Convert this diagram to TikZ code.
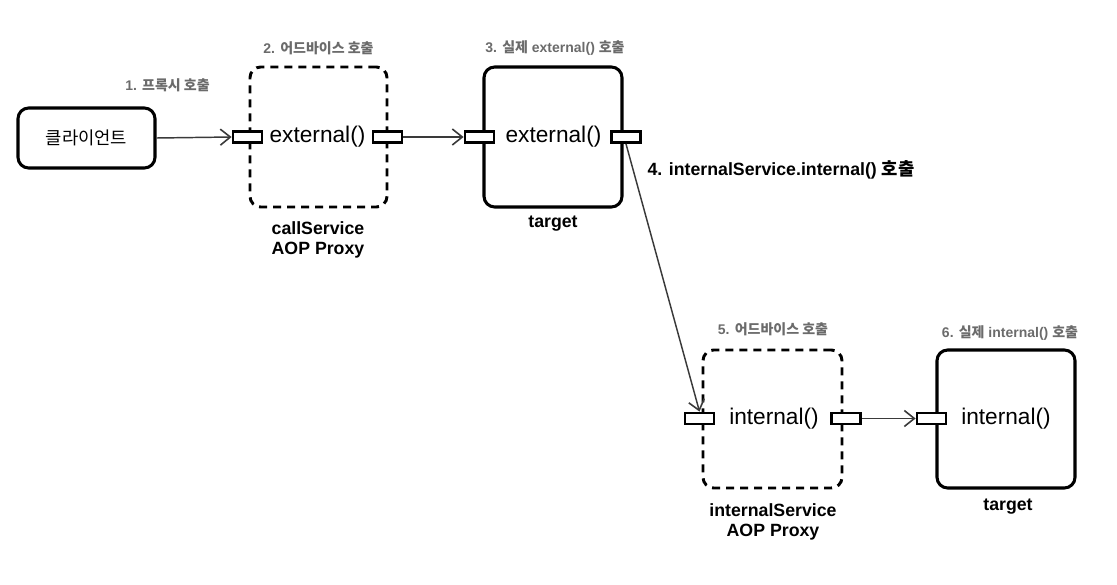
\documentclass[tikz,border=0pt]{standalone}
\usepackage{fontspec}
\setmainfont{Liberation Sans}
\newfontfamily\kr{Noto Sans CJK KR}
\usetikzlibrary{arrows.meta}
\definecolor{lblgray}{HTML}{6B6B6B}
\definecolor{arrgray}{HTML}{3A3A3A}
\tikzset{
  solidbox/.style={draw=black, line width=2.3pt, rounded corners=8pt, inner sep=0pt},
  dashbox/.style={draw=black, line width=2.2pt, rounded corners=8pt, inner sep=0pt, dash pattern=on 6pt off 4.5pt},
  port/.style={draw=black, fill=white, line width=2.1pt, minimum width=21.75pt, minimum height=8.25pt, inner sep=0pt},
  method/.style={font=\fontsize{17pt}{19pt}\selectfont, inner sep=0pt},
  graylbl/.style={text=lblgray, font=\bfseries\fontsize{10.5pt}{12pt}\selectfont, inner sep=0pt},
  blacklbl/.style={text=black, font=\bfseries\fontsize{13.3pt}{15.5pt}\selectfont, inner sep=0pt, align=center},
  flow/.style={draw=arrgray, line width=1.1pt, -{Straight Barb[length=7.5pt,width=12pt,line width=1.2pt]}},
}
\begin{document}
\begin{tikzpicture}[x=0.75pt,y=-0.75pt]
\useasboundingbox (0,0) rectangle (1117,585);
% boxes
\node[solidbox, minimum width=102.75pt, minimum height=45pt] (client) at (86.5,138) {\kr\fontsize{13.3pt}{15pt}\selectfont 클라이언트};
\node[dashbox, minimum width=102.75pt, minimum height=105pt] (proxy1) at (318.5,137) {};
\node[solidbox, minimum width=103.5pt, minimum height=105pt] (target1) at (553,137) {};
\node[dashbox, minimum width=104.25pt, minimum height=103.5pt] (proxy2) at (772.5,419) {};
\node[solidbox, minimum width=103.5pt, minimum height=103.5pt] (target2) at (1006,419) {};
% ports
\node[port] (p1l) at (247.5,137) {};
\node[port] (p1r) at (387.5,137) {};
\node[port] (t1l) at (479.5,137) {};
\node[port] (t1r) at (626,137) {};
\node[port] (p2l) at (699.5,418.5) {};
\node[port] (p2r) at (846,418.5) {};
\node[port] (t2l) at (931.5,418.5) {};
% method names
\node[method] (m1) at (317.5,137) {external()};
\node[method] (m2) at (553.5,137) {external()};
\node[method] (m3) at (774,418.5) {internal()};
\node[method] (m4) at (1006,418.5) {internal()};
% gray labels
\node[graylbl] (l1) at (167.5,85) {1. {\kr 프록시 호출}};
\node[graylbl] (l2) at (318.5,48) {2. {\kr 어드바이스 호출}};
\node[graylbl] (l3) at (555,48) {3. {\kr 실제} external() {\kr 호출}};
\node[graylbl] (l5) at (773,329) {5. {\kr 어드바이스 호출}};
\node[graylbl] (l6) at (1010,333) {6. {\kr 실제} internal() {\kr 호출}};
% black labels
\node[blacklbl] (l4) at (781,170) {4. internalService.internal() {\kr 호출}};
\node[blacklbl] (n1) at (318,240) {callService\\AOP Proxy};
\node[blacklbl] (n2) at (553,224) {target};
\node[blacklbl] (n3) at (773,522) {internalService\\AOP Proxy};
\node[blacklbl] (n4) at (1008,507) {target};
% connectors
\draw[flow] (client.east) -- (p1l.west);
\draw[flow] (p1r.east) -- (t1l.west);
\draw[flow] (t1r.south) -- (p2l.north);
\draw[flow] (p2r.east) -- (t2l.west);
\end{tikzpicture}
\end{document}
